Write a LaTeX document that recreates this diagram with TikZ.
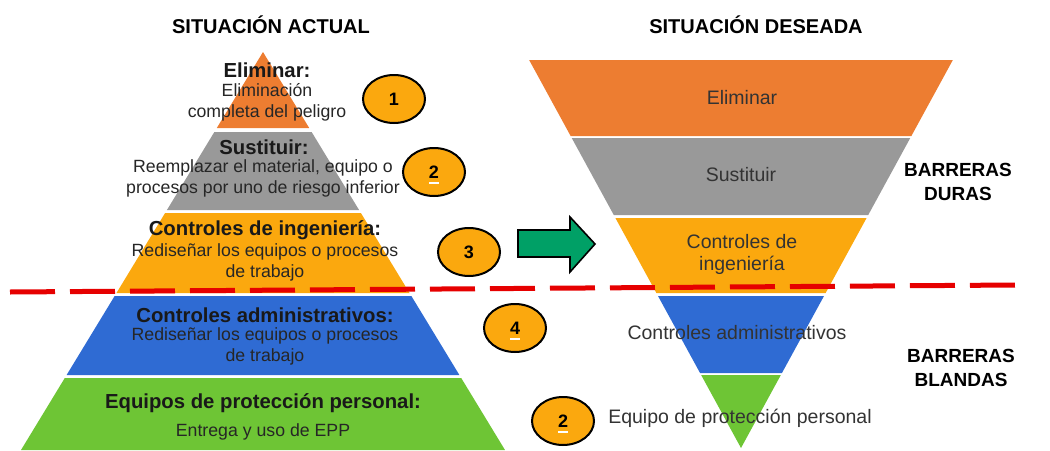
\documentclass[tikz,border=0pt]{standalone}
\usepackage{fontspec}
\setmainfont{Liberation Sans}
\definecolor{pelim}{HTML}{ED7D31}
\definecolor{psust}{HTML}{999999}
\definecolor{pinge}{HTML}{FBA80E}
\definecolor{padmi}{HTML}{2F6BD3}
\definecolor{pepp}{HTML}{6EC535}
\definecolor{arrowgreen}{HTML}{00A066}
\definecolor{dashred}{HTML}{E60000}
\usetikzlibrary{shapes.geometric, positioning}
\tikzset{
  headtitle/.style={font=\fontsize{20}{22}\selectfont\bfseries, text=black},
  heading/.style={font=\fontsize{20.3}{22}\selectfont\bfseries, text=black!90},
  desc/.style={font=\fontsize{17.7}{21}\selectfont, text=black!85, align=center},
  rlabel/.style={font=\fontsize{19.5}{22}\selectfont, text=black!80, align=center},
  barrier/.style={font=\fontsize{19}{24}\selectfont\bfseries, text=black, align=center},
  numcircle/.style={ellipse, draw=black, line width=2pt, fill=pinge, minimum width=62pt, minimum height=48pt, inner sep=0pt, font=\fontsize{18}{20}\selectfont\bfseries},
  blockarrow/.style={draw=black, line width=1.6pt, fill=arrowgreen, line join=miter},
  hazardline/.style={dashred, line width=5pt, dash pattern=on 45pt off 15pt}
}
\newcommand{\numbar}[1]{\draw[white, line width=1.3pt] ([xshift=-5pt,yshift=-11pt]#1.center) -- ([xshift=5pt,yshift=-11pt]#1.center);}

\begin{document}
\begin{tikzpicture}[x=1pt, y=-1pt]
  \useasboundingbox (0,0) rectangle (1050,450);

  % Titles
  \node (tleft) [headtitle] at (271,25) {SITUACIÓN ACTUAL};
  \node (tright) [headtitle] at (756,25) {SITUACIÓN DESEADA};

  % Left pyramid
  \foreach \yt/\yb/\col in {52/128/pelim, 132/210/psust, 213/293/pinge, 296/375/padmi, 378/450/pepp}
    \fill[\col] ({263-0.608*(\yt-52)},\yt) -- ({263+0.608*(\yt-52)},\yt) -- ({263+0.608*(\yb-52)},\yb) -- ({263-0.608*(\yb-52)},\yb) -- cycle;

  % Right pyramid (inverted)
  \foreach \yt/\yb/\col in {60/136/pelim, 138/215/psust, 218/293/pinge, 296/373/padmi, 375/448/pepp}
    \fill[\col] ({741-0.546*(448-\yt)},\yt) -- ({741+0.546*(448-\yt)},\yt) -- ({741+0.546*(448-\yb)},\yb) -- ({741-0.546*(448-\yb)},\yb) -- cycle;

  % Left labels
  \node (elimH) [heading] at (267,70) {Eliminar:};
  \node (elimD) [desc] at (267,102.5) {Eliminación\\completa del peligro};
  \node (sustH) [heading] at (264,147) {Sustituir:};
  \node (sustD) [desc] at (263,178.5) {Reemplazar el material, equipo o\\procesos por uno de riesgo inferior};
  \node (ingeH) [heading] at (265,230) {Controles de ingeniería:};
  \node (ingeD) [desc] at (265,262.5) {Rediseñar los equipos o procesos\\de trabajo};
  \node (admiH) [heading] at (265,315) {Controles administrativos:};
  \node (admiD) [desc] at (265,346) {Rediseñar los equipos o procesos\\de trabajo};
  \node (eppH) [heading] at (263,403) {Equipos de protección personal:};
  \node (eppD) [desc] at (263,432) {Entrega y uso de EPP};

  % Right labels
  \node (relim) [rlabel] at (742,98) {Eliminar};
  \node (rsust) [rlabel] at (741,175) {Sustituir};
  \node (ringe) [rlabel] at (742,254) {Controles de\\ingeniería};
  \node (radmi) [rlabel] at (737,333) {Controles administrativos};
  \node (repp) [rlabel] at (740,418) {Equipo de protección personal};
  \node (duras) [barrier] at (958,181.5) {BARRERAS\\DURAS};
  \node (blandas) [barrier] at (961,367.5) {BARRERAS\\BLANDAS};

  % Numbered circles
  \node (c1) [numcircle] at (394,99) {1};
  \node (c2) [numcircle] at (434,172) {2};
  \node (c3) [numcircle] at (469,252) {3};
  \node (c4) [numcircle] at (515,328) {4};
  \node (c5) [numcircle] at (563,421) {2};
  \numbar{c2}
  \numbar{c4}
  \numbar{c5}

  % Arrow between the two pyramids
  \draw[blockarrow] (518,230) -- (570,230) -- (570,217) -- (595,244) -- (570,272) -- (570,257) -- (518,257) -- cycle;

  % Dividing line
  \draw[hazardline] (10,292) -- (1016,285);
\end{tikzpicture}
\end{document}
